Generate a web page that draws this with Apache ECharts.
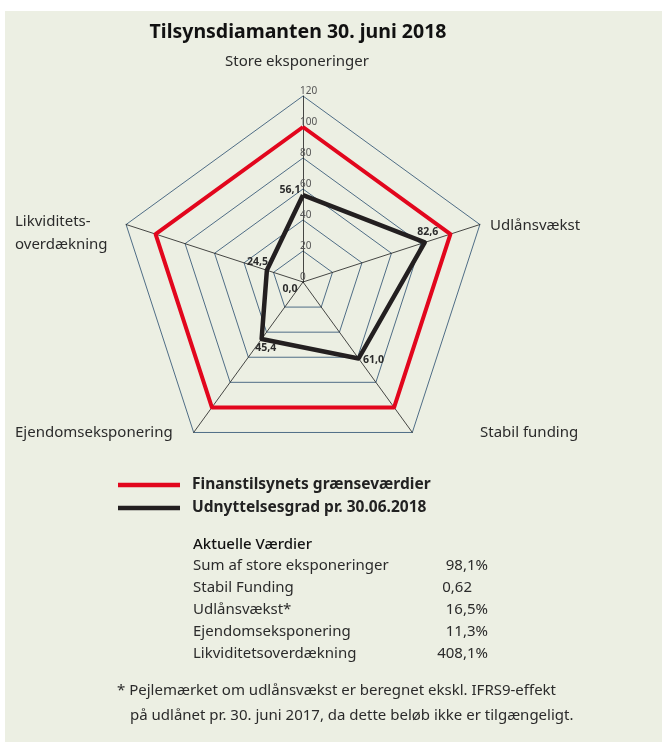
<!DOCTYPE html>
<html>
<head>
<meta charset="utf-8">
<script src="https://cdn.jsdelivr.net/npm/echarts@6/dist/echarts.min.js"></script>
<style>
  html, body { margin: 0; padding: 0; background: #ffffff; }
  #chart { width: 662px; height: 742px; }
</style>
</head>
<body>
<div id="chart"></div>
<script>
// akser (indikatorer) og værdier, i urets retning fra toppen
var indicators = ['Store eksponeringer', 'Udlånsvækst', 'Stabil funding', 'Ejendomseksponering', 'Likviditetsoverdækning'];
var graenseVaerdier = [100, 100, 100, 100, 100];
var udnyttelsesgrad = [56.1, 82.6, 61.0, 45.4, 24.5];
var seriesNames = ['Finanstilsynets grænseværdier', 'Udnyttelsesgrad pr. 30.06.2018'];

// tabel med aktuelle værdier
var tableLabels = ['Sum af store eksponeringer', 'Stabil Funding', 'Udlånsvækst*', 'Ejendomseksponering', 'Likviditetsoverdækning'];
var tableValues = ['98,1%', '0,62', '16,5%', '11,3%', '408,1%'];

var FONT = '"Noto Sans", sans-serif';
var TXT = '#2b2b2b';

// echarts tegner radar mod uret, så rækkefølgen vendes
var order = [0, 4, 3, 2, 1];
function ccw(arr) {
  return order.map(function (i) { return arr[i]; });
}

function fmt(v) {
  return v.toFixed(1).replace('.', ',');
}

// forskydning af etiketter pr. punkt (padding: top, right, bottom, left)
var labelPads = [[0, 26, 10, 0], [0, 0, 20, 6], [4, 0, 0, 30], [18, 0, 0, 8], [0, 19, 17, 0]];
var rich = {};
labelPads.forEach(function (p, i) {
  rich['p' + i] = { padding: p, fontSize: 10.5, fontWeight: 'bold', color: TXT, fontFamily: FONT };
});

var graphics = [
  { type: 'rect', shape: { x: 5, y: 11, width: 657, height: 731 }, style: { fill: '#ecefe3' }, z: -10 },
  { type: 'text', x: 298, y: 32, style: { text: 'Tilsynsdiamanten 30. juni 2018', font: 'bold 19.5px ' + FONT, fill: '#111', textAlign: 'center', textVerticalAlign: 'middle' } },
  { type: 'text', x: 297, y: 62, style: { text: indicators[0], font: '15px ' + FONT, fill: TXT, textAlign: 'center', textVerticalAlign: 'middle' } },
  { type: 'text', x: 490, y: 226, style: { text: indicators[1], font: '15px ' + FONT, fill: TXT, textVerticalAlign: 'middle' } },
  { type: 'text', x: 480, y: 433, style: { text: indicators[2], font: '15px ' + FONT, fill: TXT, textVerticalAlign: 'middle' } },
  { type: 'text', x: 15, y: 433, style: { text: indicators[3], font: '15px ' + FONT, fill: TXT, textVerticalAlign: 'middle' } },
  { type: 'text', x: 15, y: 222, style: { text: 'Likviditets-', font: '15px ' + FONT, fill: TXT, textVerticalAlign: 'middle' } },
  { type: 'text', x: 15, y: 245, style: { text: 'overdækning', font: '15px ' + FONT, fill: TXT, textVerticalAlign: 'middle' } },
  { type: 'text', x: 290, y: 289, style: { text: '0,0', font: 'bold 10.5px ' + FONT, fill: TXT, textAlign: 'center', textVerticalAlign: 'middle' } },
  { type: 'text', x: 193, y: 545, style: { text: 'Aktuelle Værdier', font: '500 15px ' + FONT, fill: '#111', textVerticalAlign: 'middle' } },
  { type: 'text', x: 117, y: 691, style: { text: '* Pejlemærket om udlånsvækst er beregnet ekskl. IFRS9-effekt', font: '15px ' + FONT, fill: TXT, textVerticalAlign: 'middle' } },
  { type: 'text', x: 130, y: 716, style: { text: 'på udlånet pr. 30. juni 2017, da dette beløb ikke er tilgængeligt.', font: '15px ' + FONT, fill: TXT, textVerticalAlign: 'middle' } }
];
tableLabels.forEach(function (t, i) {
  var y = 566 + i * 22;
  graphics.push({ type: 'text', x: 193, y: y, style: { text: t, font: '15px ' + FONT, fill: TXT, textVerticalAlign: 'middle' } });
  var v = tableValues[i];
  graphics.push({ type: 'text', x: v.slice(-1) === '%' ? 488 : 472, y: y, style: { text: v, font: '15px ' + FONT, fill: TXT, textAlign: 'right', textVerticalAlign: 'middle' } });
});

var ccwValues = ccw(udnyttelsesgrad);

var chart = echarts.init(document.getElementById('chart'));
chart.setOption({
  backgroundColor: '#ffffff',
  animation: false,
  graphic: graphics,
  legend: {
    orient: 'vertical',
    left: 113,
    top: 472,
    icon: 'rect',
    itemWidth: 62,
    itemHeight: 4.5,
    itemGap: 7,
    data: seriesNames,
    textStyle: { fontFamily: FONT, fontSize: 15.5, fontWeight: 'bold', color: '#222', padding: [0, 0, 0, 7] }
  },
  radar: {
    center: [303, 282],
    radius: 186,
    shape: 'polygon',
    startAngle: 90,
    splitNumber: 6,
    indicator: ccw(indicators).map(function (n, i) {
      var ind = { name: n, min: 0, max: 120 };
      if (i === 0) {
        ind.axisLabel = { show: true, color: '#555', fontSize: 10, fontFamily: FONT, margin: 3, align: 'left', verticalAlign: 'bottom' };
      }
      return ind;
    }),
    axisName: { show: false },
    axisLabel: { show: false },
    axisLine: { lineStyle: { color: '#1a1a1a', width: 0.8 } },
    splitLine: { lineStyle: { color: '#4f6d86', width: 1 } },
    splitArea: { show: false }
  },
  series: [{
    type: 'radar',
    data: [
      {
        name: seriesNames[0],
        value: ccw(graenseVaerdier),
        symbol: 'none',
        lineStyle: { color: '#e2061d', width: 4 },
        itemStyle: { color: '#e2061d' }
      },
      {
        name: seriesNames[1],
        value: ccwValues,
        symbol: 'circle',
        symbolSize: 0,
        lineStyle: { color: '#231f20', width: 4.5 },
        itemStyle: { color: '#231f20' },
        label: {
          show: true,
          position: 'inside',
          textBorderWidth: 0,
          formatter: function (p) {
            var i = udnyttelsesgrad.indexOf(p.value);
            return '{p' + i + '|' + fmt(p.value) + '}';
          },
          rich: rich
        }
      }
    ]
  }]
});
</script>
</body>
</html>
